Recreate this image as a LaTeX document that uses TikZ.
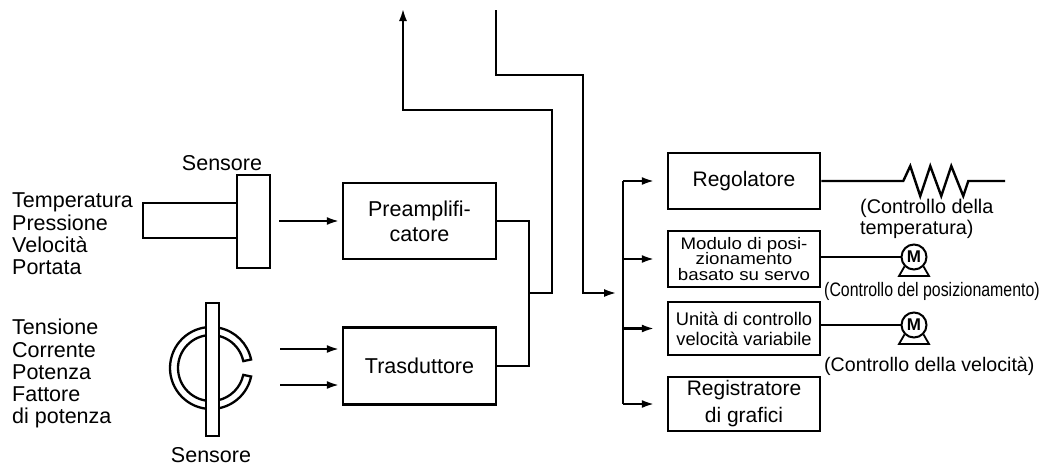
\documentclass[tikz,border=0pt]{standalone}
\usepackage{fontspec}
\setmainfont{Liberation Sans}
\newfontfamily\widefont[FakeStretch=1.12]{Liberation Sans}
\usetikzlibrary{arrows.meta,calc}
\newcommand{\fsz}[2]{\fontsize{#1}{#2}\selectfont}
\tikzset{
  box/.style={draw, line width=2.5pt, inner sep=0pt, align=center, minimum width=153pt},
  conn/.style={line width=2.6pt},
  thinconn/.style={line width=1.7pt},
  arr/.style={conn, -{Latex[length=13pt,width=8pt]}},
  lbl/.style={inner sep=0pt},
  shp/.style={line width=2.3pt},
  motor/.style={circle, draw, line width=2pt, minimum size=25pt, inner sep=0pt, font=\bfseries\fsz{17}{17}},
}
\begin{document}
\begin{tikzpicture}[x=1pt,y=-1pt]
\useasboundingbox (0,0) rectangle (1040,466);

% left labels
\node[lbl, anchor=north west, align=left, font=\fsz{21.5}{22.3}] (lab1) at (12,193) {Temperatura\\Pressione\\Velocità\\Portata};
\node[lbl, anchor=north west, align=left, font=\fsz{21.5}{22.3}] (lab2) at (12,319) {Tensione\\Corrente\\Potenza\\Fattore\\di potenza};

% sensor 1
\draw[shp] (143,203) rectangle (237,238);
\node[draw, shp, fill=white, minimum width=33pt, minimum height=93pt, inner sep=0pt] (plate) at (253.5,221.5) {};
\node[lbl, anchor=base, font=\fsz{21.5}{22}] (s1lab) at (222,170) {Sensore};

% sensor 2
\draw[shp, fill=white] (211,368) ++(12:41) arc[start angle=12, end angle=348, radius=41]
   -- ($(211,368)+(348:33)$) arc[start angle=348, end angle=12, radius=33] -- cycle;
\node[draw, shp, fill=white, minimum width=13pt, minimum height=133pt, inner sep=0pt] (bar) at (212.5,369.5) {};
\node[lbl, anchor=base, font=\fsz{21.5}{22}] (s2lab) at (211,462) {Sensore};

% middle boxes
\node[box, minimum height=76pt, font=\fsz{21.5}{25}] (pre) at (419.5,221) {Preamplifi-\\catore};
\node[box, minimum height=77pt, font=\fsz{21.5}{25}] (tra) at (419.5,366) {Trasduttore};

% right boxes
\node[box, minimum width=152pt, minimum height=56pt, font=\fsz{21}{24}] (rego) at (744,181) {Regolatore};
\node[box, minimum width=152pt, minimum height=56pt, font=\widefont\fsz{16.7}{15.6}] (mod) at (744,259) {Modulo di posi-\\zionamento\\basato su servo};
\node[box, minimum width=152pt, minimum height=53pt, font=\fsz{18.3}{20}] (uni) at (744,328.5) {Unità di controllo\\velocità variabile};
\node[box, minimum width=152pt, minimum height=54pt, font=\fsz{21}{27}] (reg) at (744,404) {Registratore\\di grafici};

% coordinates
\coordinate (s2a) at (280,349);
\coordinate (s2b) at (280,385);
\coordinate (jn) at (529,293);
\coordinate (c2) at (552,110);
\coordinate (outA) at (403,8);
\coordinate (inB) at (496,10);
\coordinate (c1) at (583,75);
\coordinate (bus) at (623,293);
\coordinate (rend) at (1005,181);

% input arrows
\draw[arr, shorten <=8pt, shorten >=2pt] (plate.east |- pre.west) -- (pre.west);
\draw[arr, shorten >=2pt] (s2a) -- (tra.west |- s2a);
\draw[arr, shorten >=2pt] (s2b) -- (tra.west |- s2b);

% combine outputs
\draw[conn] (pre.east) -| (jn) |- (tra.east);
\draw[arr] (jn) -| (c2) -| (outA);
\draw[arr, shorten >=6pt] (inB) |- (c1) |- (bus);

% bus
\draw[conn] (bus |- rego.west) -- (bus |- reg.west);
\draw[arr, shorten >=12pt] (bus |- rego.west) -- (rego.west);
\draw[arr, shorten >=12pt] (bus |- mod.west) -- (mod.west);
\draw[arr, shorten >=12pt] (bus |- uni.west) -- (uni.west);
\draw[arr, shorten >=12pt] (bus |- reg.west) -- (reg.west);

% outputs
\draw[line width=2.4pt, line join=miter] (rego.east) -- ++(82,0) -- ++(7,-15) -- ++(10,30) -- ++(10,-30) -- ++(11,30) -- ++(10,-30) -- ++(12,30) -- ++(5,-15) -- (rend);
\node[lbl, anchor=north west, align=left, font=\fsz{19.8}{21}] (t1) at (860,198.5) {(Controllo della\\temperatura)};

\node[motor] (m1) at (914,257) {M};
\draw[line width=1.8pt] (m1.225) -- (899,276) -- (929,276) -- (m1.315);
\draw[thinconn] (mod.east |- m1) -- (m1.west);
\node[lbl, anchor=base west, font=\fsz{19.5}{21}] (t2) at (824,296) {\scalebox{0.815}[1]{(Controllo del posizionamento)}};

\node[motor] (m2) at (914,325) {M};
\draw[line width=1.8pt] (m2.225) -- (899,344) -- (929,344) -- (m2.315);
\draw[thinconn] (uni.east |- m2) -- (m2.west);
\node[lbl, anchor=base west, font=\fsz{19.6}{21}] (t3) at (824,371) {(Controllo della velocità)};
\end{tikzpicture}
\end{document}
